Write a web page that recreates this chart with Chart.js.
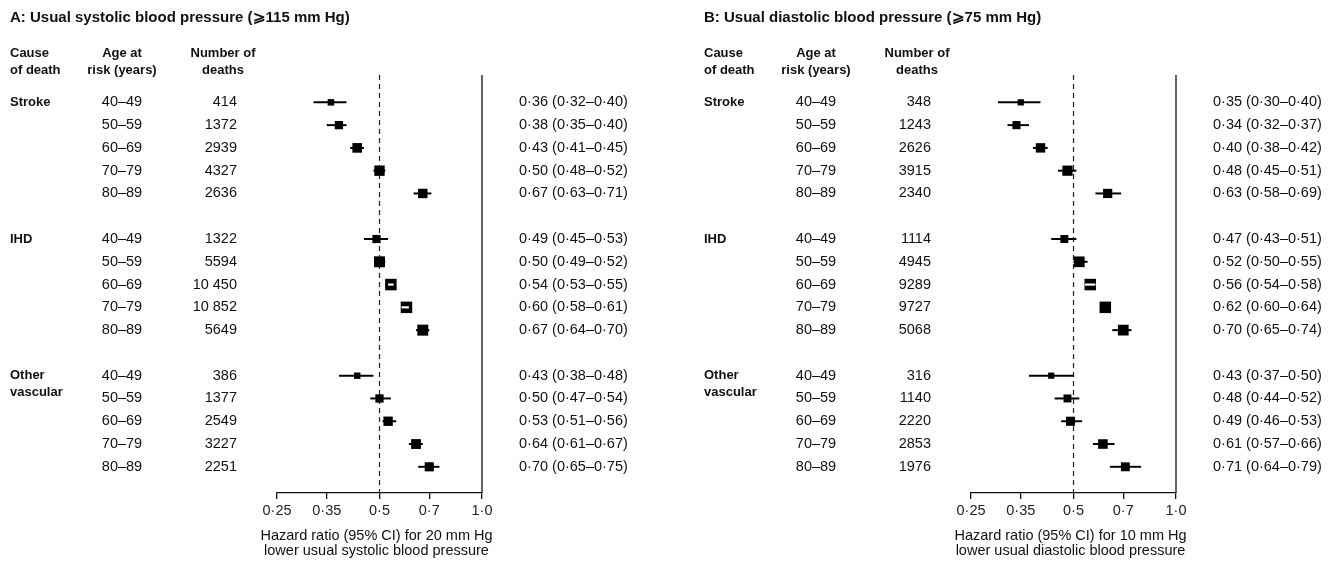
<!DOCTYPE html>
<html lang="en">
<head>
<meta charset="UTF-8" />
<title>Hazard ratios by usual blood pressure</title>
<style>
  body {
    margin: 0;
    background: #fff;
    width: 1336px;
    height: 563px;
    overflow: hidden;
    position: relative;
  }
  canvas {
    position: absolute;
    top: 0;
  }
  #chartA { left: 0; }
  #chartB { left: 694px; }
</style>
</head>
<body>

<canvas id="chartA" width="694" height="563"></canvas>
<canvas id="chartB" width="642" height="563"></canvas>

<script src="https://cdn.jsdelivr.net/npm/chart.js"></script>
<script>
// categories
const groups = ['Stroke', 'IHD', 'Other vascular'];
const ages = ['40–49', '50–59', '60–69', '70–79', '80–89'];
const tickVals = [0.25, 0.35, 0.5, 0.7, 1.0];
const tickLabels = ['0·25', '0·35', '0·5', '0·7', '1·0'];

// panel A: systolic
const deathsA = [414, 1372, 2939, 4327, 2636, 1322, 5594, 10450, 10852, 5649, 386, 1377, 2549, 3227, 2251];
const hrA = [0.36, 0.38, 0.43, 0.50, 0.67, 0.49, 0.50, 0.54, 0.60, 0.67, 0.43, 0.50, 0.53, 0.64, 0.70];
const loA = [0.32, 0.35, 0.41, 0.48, 0.63, 0.45, 0.49, 0.53, 0.58, 0.64, 0.38, 0.47, 0.51, 0.61, 0.65];
const hiA = [0.40, 0.40, 0.45, 0.52, 0.71, 0.53, 0.52, 0.55, 0.61, 0.70, 0.48, 0.54, 0.56, 0.67, 0.75];

// panel B: diastolic
const deathsB = [348, 1243, 2626, 3915, 2340, 1114, 4945, 9289, 9727, 5068, 316, 1140, 2220, 2853, 1976];
const hrB = [0.35, 0.34, 0.40, 0.48, 0.63, 0.47, 0.52, 0.56, 0.62, 0.70, 0.43, 0.48, 0.49, 0.61, 0.71];
const loB = [0.30, 0.32, 0.38, 0.45, 0.58, 0.43, 0.50, 0.54, 0.60, 0.65, 0.37, 0.44, 0.46, 0.57, 0.64];
const hiB = [0.40, 0.37, 0.42, 0.51, 0.69, 0.51, 0.55, 0.58, 0.64, 0.74, 0.50, 0.52, 0.53, 0.66, 0.79];

// rows drawn with a white CI line through the box
const hollowA = [7, 8];
const hollowB = [7];

const FONT = "'Liberation Sans', Arial, sans-serif";
const Y_MIN = -1.2, Y_MAX = 17.15;

Chart.defaults.font.family = FONT;
Chart.defaults.font.size = 14.5;
Chart.defaults.color = '#222';

function rowOf(i) {
    return Math.floor(i / 5) * 6 + (i % 5);
}
function dot(v) {
    return v.toFixed(2).replace('.', '·');
}
function fmtDeaths(d) {
    const s = String(d);
    return d >= 10000 ? s.slice(0, -3) + ' ' + s.slice(-3) : s;
}
function boxSide(d) {
    return Math.min(11.5, 1.95 * Math.pow(d, 0.2));
}

// table text beside each forest plot
const forestText = {
    id: 'forestText',
    afterDraw(chart, args, opts) {
        const ctx = chart.ctx;
        const y = chart.scales.y;
        const area = chart.chartArea;
        ctx.save();
        ctx.fillStyle = '#111';
        ctx.textBaseline = 'middle';

        ctx.font = `bold 15px ${FONT}`;
        ctx.textAlign = 'left';
        ctx.fillText(opts.title, 10, 18);

        ctx.font = `bold 13px ${FONT}`;
        ctx.fillText('Cause', 10, 53);
        ctx.fillText('of death', 10, 70);
        ctx.textAlign = 'center';
        ctx.fillText('Age at', 122, 53);
        ctx.fillText('risk (years)', 122, 70);
        ctx.fillText('Number of', 223, 53);
        ctx.fillText('deaths', 223, 70);

        ctx.textAlign = 'left';
        groups.forEach((g, k) => {
            const yy = y.getPixelForValue(k * 6);
            const parts = g.split(' ');
            parts.forEach((p, j) => ctx.fillText(p, 10, yy + j * 17));
        });

        ctx.font = `14.5px ${FONT}`;
        opts.deaths.forEach((d, i) => {
            const yy = y.getPixelForValue(rowOf(i));
            ctx.textAlign = 'center';
            ctx.fillText(ages[i % 5], 122, yy);
            ctx.textAlign = 'right';
            ctx.fillText(fmtDeaths(d), 237, yy);
            ctx.textAlign = 'left';
            ctx.fillText(`${dot(opts.hr[i])} (${dot(opts.lo[i])}–${dot(opts.hi[i])})`, 519, yy);
        });

        ctx.textAlign = 'center';
        const cx = (area.left + area.right) / 2 - 3;
        ctx.fillText(opts.axisTitle[0], cx, 536);
        ctx.fillText(opts.axisTitle[1], cx, 551);
        ctx.restore();
    }
};

function makeChart(id, deaths, hr, lo, hi, hollow, title, axisTitle, width) {
    const datasets = [];

    // reference lines at 0.5 (dashed) and 1.0 (solid)
    datasets.push({
        type: 'line',
        data: [{x: 0.5, y: Y_MIN}, {x: 0.5, y: Y_MAX}],
        borderColor: '#222', borderWidth: 1.2, borderDash: [5, 4],
        pointRadius: 0, order: 5, clip: false
    });
    datasets.push({
        type: 'line',
        data: [{x: 1.0, y: Y_MIN}, {x: 1.0, y: Y_MAX}],
        borderColor: '#111', borderWidth: 1.3,
        pointRadius: 0, order: 5, clip: false
    });

    // confidence intervals
    hr.forEach((v, i) => {
        datasets.push({
            type: 'line',
            data: [{x: lo[i], y: rowOf(i)}, {x: hi[i], y: rowOf(i)}],
            borderColor: '#000', borderWidth: 2,
            pointRadius: 0, order: 3, clip: false
        });
    });

    // point estimates
    datasets.push({
        type: 'scatter',
        data: hr.map((v, i) => ({x: v, y: rowOf(i)})),
        pointStyle: 'rect',
        pointRadius: deaths.map(d => boxSide(d) / (2 * Math.SQRT1_2)),
        pointBackgroundColor: '#000',
        pointBorderWidth: 0,
        order: 2, clip: false
    });

    // white CI lines inside the largest boxes
    hollow.forEach(i => {
        datasets.push({
            type: 'line',
            data: [{x: lo[i], y: rowOf(i)}, {x: hi[i], y: rowOf(i)}],
            borderColor: '#fff', borderWidth: 2.2,
            pointRadius: 0, order: 1, clip: false
        });
    });

    return new Chart(document.getElementById(id).getContext('2d'), {
        type: 'scatter',
        data: {datasets},
        plugins: [forestText],
        options: {
            responsive: false,
            animation: false,
            devicePixelRatio: 1,
            layout: {padding: {left: 277, right: width - 482, top: 75, bottom: 0}},
            plugins: {
                legend: {display: false},
                tooltip: {enabled: false},
                forestText: {title, axisTitle, deaths, hr, lo, hi}
            },
            scales: {
                x: {
                    type: 'logarithmic',
                    min: 0.25,
                    max: 1.0,
                    afterBuildTicks: (s) => { s.ticks = tickVals.map(v => ({value: v})); },
                    afterFit: (s) => { s.height = 70; },
                    ticks: {
                        autoSkip: false,
                        maxRotation: 0,
                        padding: 3,
                        color: '#222',
                        font: {size: 14.5},
                        callback: (v, i) => tickLabels[i]
                    },
                    grid: {drawOnChartArea: false, drawTicks: true, tickLength: 6, color: '#111', lineWidth: 1.3},
                    border: {display: true, color: '#111', width: 1.3}
                },
                y: {
                    type: 'linear',
                    display: false,
                    reverse: true,
                    min: Y_MIN,
                    max: Y_MAX
                }
            }
        }
    });
}

makeChart('chartA', deathsA, hrA, loA, hiA, hollowA,
    'A: Usual systolic blood pressure (⩾115 mm Hg)',
    ['Hazard ratio (95% CI) for 20 mm Hg', 'lower usual systolic blood pressure'], 694);

makeChart('chartB', deathsB, hrB, loB, hiB, hollowB,
    'B: Usual diastolic blood pressure (⩾75 mm Hg)',
    ['Hazard ratio (95% CI) for 10 mm Hg', 'lower usual diastolic blood pressure'], 642);
</script>

</body>
</html>
